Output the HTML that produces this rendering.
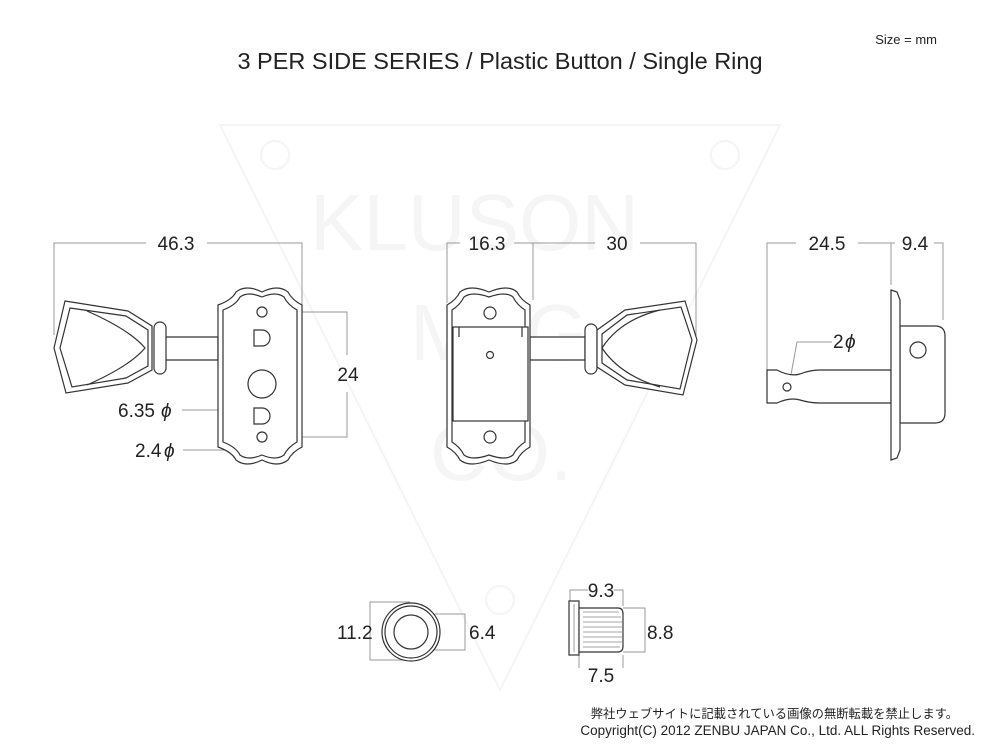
<!DOCTYPE html>
<html><head><meta charset="utf-8"><style>
html,body{margin:0;padding:0;background:#fff;}
svg{display:block;font-family:"Liberation Sans","Noto Sans CJK JP",sans-serif;}
</style></head><body>
<svg width="1000" height="748" viewBox="0 0 1000 748">
<!-- watermark -->
<g stroke="#f4f4f4" fill="none" stroke-width="2">
<path d="M220 125 L780 125 L500 690 Z"/>
<circle cx="275" cy="155" r="14"/><circle cx="725" cy="155" r="14"/><circle cx="500" cy="600" r="14"/>
</g>
<g fill="#f5f5f5" font-size="80" font-family="Liberation Sans,sans-serif">
<text x="310" y="250">KLUSON</text>
<text x="410" y="360">MFG</text>
<text x="430" y="480">CO.</text>
</g>
<text x="500" y="69" text-anchor="middle" font-size="23.5" fill="#222">3 PER SIDE SERIES / Plastic Button / Single Ring</text>
<text x="937" y="44" text-anchor="end" font-size="13" fill="#222">Size = mm</text>

<g stroke="#999" stroke-width="1" fill="none">
<path d="M54 335 V243 H146 M207 243 H302 V305"/>
<path d="M270 312 H347 V355 M347 392 V437 H268"/>
<path d="M182 410 H238 L250 395"/>
<path d="M183 450 H230 L256 442"/>
<path d="M447 303 V243 H460 M514 243 H595 M533 243 V300 M640 243 H696 V340"/>
<path d="M767 390 V243 H796 M858 243 H895 M891 243 V285 M934 243 H943 V320"/>
<path d="M790 380 L797 342 H832"/>
<path d="M410 602 H370 V660 H410"/>
<path d="M412 614 H465 V650 H412"/>
<path d="M570 602 V590 H588 M614 590 H623 V606"/>
<path d="M623 608 H645 V652 H623"/>
<path d="M579 655 V668 M623 655 V668"/>
</g>

<g stroke="#333" stroke-width="1.2" fill="#fff">
<path d="M165 337 H218 V360 H165 Z"/>
<rect x="154" y="322" width="12" height="52" rx="6"/>
<path d="M65 301 L128 311 L152 326 L152 370 L128 383 L66 393 L54 348 Z"/>
<path d="M70 308 L126 316 L148 330 L148 366 L126 378 L72 387 L60 348 Z"/>
<path d="M87 311 Q130 330 145 348 Q130 366 87 385" fill="none"/>
<path d="M218 305 Q232 300 236 292 Q246 284 262 292 Q278 284 288 292 Q292 300 302 305 V447 Q292 452 288 460 Q278 468 262 460 Q246 468 236 460 Q232 452 218 447 Z"/>
<path d="M223 310 Q236 305 240 297 Q248 291 262 297 Q276 291 284 297 Q288 305 297 310 V442 Q288 447 284 455 Q276 461 262 455 Q248 461 240 455 Q236 447 223 442 Z"/>
<circle cx="262" cy="312" r="5"/>
<path d="M254 330 H262 A8 8 0 0 1 262 346 H254 Z"/>
<circle cx="262" cy="384" r="14"/>
<path d="M254 408 H262 A8 8 0 0 1 262 424 H254 Z"/>
<circle cx="262" cy="437" r="5"/>

<path d="M530 337 H585 V360 H530 Z"/>
<rect x="585" y="324" width="12" height="50" rx="6"/>
<path d="M597 330 L625 310 L685 301 L697 340 L683 395 L625 385 L597 367 Z"/>
<path d="M602 334 L627 315 L681 307 L692 340 L680 389 L627 380 L602 363 Z"/>
<path d="M660 310 Q620 320 602 348 Q620 375 660 387" fill="none"/>
<path d="M447 305 Q456 300 460 292 Q470 284 489 292 Q508 284 517 292 Q521 300 530 305 V447 Q521 452 517 460 Q508 468 489 460 Q470 468 460 460 Q456 452 447 447 Z"/>
<path d="M452 310 Q460 305 464 297 Q472 291 489 297 Q506 291 513 297 Q517 305 525 310 V442 Q517 447 513 455 Q506 461 489 455 Q472 461 464 455 Q460 447 452 442 Z"/>
<rect x="453" y="327" width="75" height="94"/>
<path d="M459 327 V337 M522 327 V337" fill="none"/>
<circle cx="490" cy="313" r="6"/>
<circle cx="490" cy="355" r="3.5"/>
<circle cx="490" cy="437" r="6"/>

<path d="M900 326 H935 Q945 326 945 336 V413 Q945 423 935 423 H900 Z"/>
<circle cx="918" cy="350" r="8"/>
<path d="M767 370 H777 Q790 377 800 374 Q810 370 820 370 H891 V403 H820 Q810 403 800 400 Q790 397 777 403 H767 Z"/>
<circle cx="787" cy="387" r="4"/>
<path d="M891 290 L897 292 L900 300 V450 L897 458 L891 460 Z"/>

<circle cx="411" cy="632" r="29"/>
<circle cx="411" cy="632" r="26"/>
<circle cx="411" cy="632" r="17"/>

<rect x="569" y="601" width="10" height="54"/>
<path d="M579 608 H618 Q623 608 623 614 V646 Q623 652 618 652 H579 Z"/>
</g>
<g stroke="#888" stroke-width="0.8">
<path d="M583 612 H619 M583 617 H621 M583 622 H622 M583 627 H622 M583 632 H622 M583 637 H622 M583 642 H622 M583 647 H620 M574 604 V652"/>
</g>

<g font-size="19" fill="#222">
<text x="176" y="250" text-anchor="middle">46.3</text>
<text x="348" y="381" text-anchor="middle">24</text>
<text x="118" y="417">6.35</text><text x="161" y="417" font-style="italic">ϕ</text>
<text x="135" y="457">2.4</text><text x="164" y="457" font-style="italic">ϕ</text>
<text x="487" y="250" text-anchor="middle">16.3</text>
<text x="617" y="250" text-anchor="middle">30</text>
<text x="827" y="250" text-anchor="middle">24.5</text>
<text x="915" y="250" text-anchor="middle">9.4</text>
<text x="833" y="348">2</text><text x="845" y="348" font-style="italic">ϕ</text>
<text x="337" y="639">11.2</text>
<text x="469" y="639">6.4</text>
<text x="601" y="597" text-anchor="middle">9.3</text>
<text x="647" y="639">8.8</text>
<text x="601" y="682" text-anchor="middle">7.5</text>
</g>
<g fill="#222" text-anchor="end">
<text x="958" y="718" font-size="12.3">弊社ウェブサイトに記載されている画像の無断転載を禁止します。</text>
<text x="975" y="735" font-size="13.5">Copyright(C) 2012 ZENBU JAPAN Co., Ltd. ALL Rights Reserved.</text>
</g>
</svg>
</body></html>
